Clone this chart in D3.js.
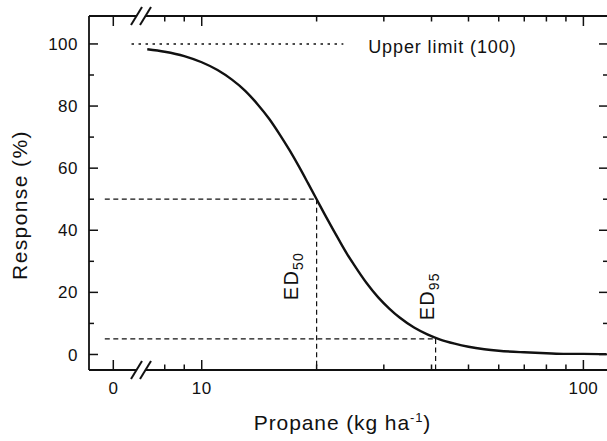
<!DOCTYPE html>
<html>
<head>
<meta charset="utf-8">
<script src="https://cdn.jsdelivr.net/npm/d3@7"></script>
<style>
body{margin:0;background:#fff;}
text{font-family:"Liberation Sans",Arial,sans-serif;fill:#111;}
</style>
</head>
<body>
<svg id="chart" width="607" height="441"></svg>
<script>
// curve (dose kg/ha, response %)
var doseX = [7.2, 8, 9, 10, 11, 12, 13, 14, 15, 16, 17, 18, 19, 20, 21, 22, 23, 24, 25, 27, 29, 31, 33, 36, 39, 42, 46, 50, 55, 60, 70, 80, 90, 100, 115];
var responseY = [98.3, 97.5, 96.1, 94.1, 91.6, 88.5, 84.9, 80.6, 76.0, 70.9, 65.7, 60.4, 55.1, 50, 45.1, 40.6, 36.4, 32.5, 29.1, 23.1, 18.4, 14.8, 11.9, 8.7, 6.5, 4.9, 3.5, 2.5, 1.7, 1.2, 0.7, 0.4, 0.2, 0.2, 0.1];

var yMajor = [0, 20, 40, 60, 80, 100];
var yMinor = [10, 30, 50, 70, 90];
var xMajorLog = [10, 100];
var xMinorLog = [8, 9, 20, 30, 40, 50, 60, 70, 80, 90];
var xZeroTicks = [0];

var upperLimit = 100;
var ed50 = 20, ed95 = 41;
var ed50Level = 50, ed95Level = 5;

var margin = {top: 16, left: 89, right: -1, bottom: 71};
var W = 607, H = 441;
var width = W - margin.left - margin.right;
var height = H - margin.top - margin.bottom;

var svg = d3.select("#chart");
var g = svg.append("g").attr("transform", "translate(" + margin.left + "," + margin.top + ")");

var y = d3.scaleLinear().domain([-5, 109]).range([height, 0]);
// broken x axis: small linear piece around 0, then log piece
var xZero = d3.scaleLinear().domain([-1, 1]).range([0, 48.6]);
var xLog = d3.scaleLog().domain([7, 116]).range([53.6, width]);
var breakX = 52;

var axisW = 1.8;

// frame
function hline(yy, x0, x1) {
  g.append("line").attr("x1", x0).attr("x2", x1).attr("y1", yy).attr("y2", yy)
    .attr("stroke", "#111").attr("stroke-width", axisW);
}
[0, height].forEach(function(yy) {
  hline(yy, 0, breakX - 4.5);
  hline(yy, breakX + 4.5, width);
});
g.append("line").attr("x1", 0).attr("x2", 0).attr("y1", 0).attr("y2", height)
  .attr("stroke", "#111").attr("stroke-width", axisW);
g.append("line").attr("x1", width).attr("x2", width).attr("y1", 0).attr("y2", height)
  .attr("stroke", "#111").attr("stroke-width", axisW);

// break marks
[0, height].forEach(function(yy) {
  [-4.5, 4.5].forEach(function(dx) {
    g.append("line")
      .attr("x1", breakX + dx - 5.5).attr("y1", yy + 9)
      .attr("x2", breakX + dx + 5.5).attr("y2", yy - 9)
      .attr("stroke", "#111").attr("stroke-width", 2);
  });
});

// ticks (inward)
function xTick(px, len) {
  g.append("line").attr("x1", px).attr("x2", px).attr("y1", height).attr("y2", height - len)
    .attr("stroke", "#111").attr("stroke-width", 1.5);
  g.append("line").attr("x1", px).attr("x2", px).attr("y1", 0).attr("y2", len)
    .attr("stroke", "#111").attr("stroke-width", 1.5);
}
function yTick(v, len) {
  g.append("line").attr("x1", 0).attr("x2", len).attr("y1", y(v)).attr("y2", y(v))
    .attr("stroke", "#111").attr("stroke-width", 1.5);
  g.append("line").attr("x1", width).attr("x2", width - len).attr("y1", y(v)).attr("y2", y(v))
    .attr("stroke", "#111").attr("stroke-width", 1.5);
}
xZeroTicks.forEach(function(d) { xTick(xZero(d), 10); });
xMajorLog.forEach(function(d) { xTick(xLog(d), 10); });
xMinorLog.forEach(function(d) { xTick(xLog(d), 5.5); });
yMajor.forEach(function(d) { yTick(d, 9); });
yMinor.forEach(function(d) { yTick(d, 5); });

// tick labels
var tickFont = 17;
yMajor.forEach(function(d) {
  g.append("text").attr("x", -11).attr("y", y(d)).attr("dy", "0.36em")
    .attr("text-anchor", "end").style("font-size", tickFont + "px").style("letter-spacing", "0.5px").text(d);
});
xZeroTicks.forEach(function(d) {
  g.append("text").attr("x", xZero(d)).attr("y", height + 24)
    .attr("text-anchor", "middle").style("font-size", tickFont + "px").text(d);
});
xMajorLog.forEach(function(d) {
  g.append("text").attr("x", xLog(d)).attr("y", height + 24)
    .attr("text-anchor", "middle").style("font-size", tickFont + "px").style("letter-spacing", "0.5px").text(d);
});

// axis titles
var xt = g.append("text").attr("x", 253.5).attr("y", height + 60)
  .attr("text-anchor", "middle").style("font-size", "21px").style("letter-spacing", "0.9px");
xt.append("tspan").text("Propane (kg ha");
xt.append("tspan").attr("dy", -8).style("font-size", "13px").text("-1");
xt.append("tspan").attr("dy", 8).text(")");

g.append("text").attr("transform", "translate(" + (27 - margin.left) + "," + (205 - margin.top) + ") rotate(-90)")
  .attr("text-anchor", "middle").style("font-size", "21px").style("letter-spacing", "1.4px").text("Response (%)");

// upper limit
g.append("line")
  .attr("x1", xZero(0.75)).attr("x2", xLog(23.5))
  .attr("y1", y(upperLimit)).attr("y2", y(upperLimit))
  .attr("stroke", "#111").attr("stroke-width", 1.4).attr("stroke-dasharray", "2.5,4.5");
g.append("text").attr("x", xLog(27.3)).attr("y", y(upperLimit) + 9)
  .style("font-size", "18px").style("letter-spacing", "0.9px").text("Upper limit (" + upperLimit + ")");

// ED guide lines
function guide(xv, level) {
  g.append("line").attr("x1", xZero(-0.35)).attr("x2", xLog(xv))
    .attr("y1", y(level)).attr("y2", y(level))
    .attr("stroke", "#111").attr("stroke-width", 1.2).attr("stroke-dasharray", "5,3.5");
  g.append("line").attr("x1", xLog(xv)).attr("x2", xLog(xv))
    .attr("y1", y(level)).attr("y2", height)
    .attr("stroke", "#111").attr("stroke-width", 1.2).attr("stroke-dasharray", "5,3.5");
}
guide(ed50, ed50Level);
guide(ed95, ed95Level);

function edLabel(xv, yv, dx, sub) {
  var t = g.append("text")
    .attr("transform", "translate(" + (xLog(xv) + dx) + "," + y(yv) + ") rotate(-90)")
    .style("font-size", "20px").style("letter-spacing", "1.2px");
  t.append("tspan").text("ED");
  t.append("tspan").attr("dy", 5).style("font-size", "14px").text(sub);
}
edLabel(ed50, 17.5, -19, "50");
edLabel(ed95, 11, -2, "95");

// response curve
var pts = doseX.map(function(d, i) { return [xLog(d), y(responseY[i])]; });
g.append("path").datum(pts)
  .attr("d", d3.line().curve(d3.curveMonotoneX))
  .attr("fill", "none").attr("stroke", "#111").attr("stroke-width", 2.4);
</script>
</body>
</html>
